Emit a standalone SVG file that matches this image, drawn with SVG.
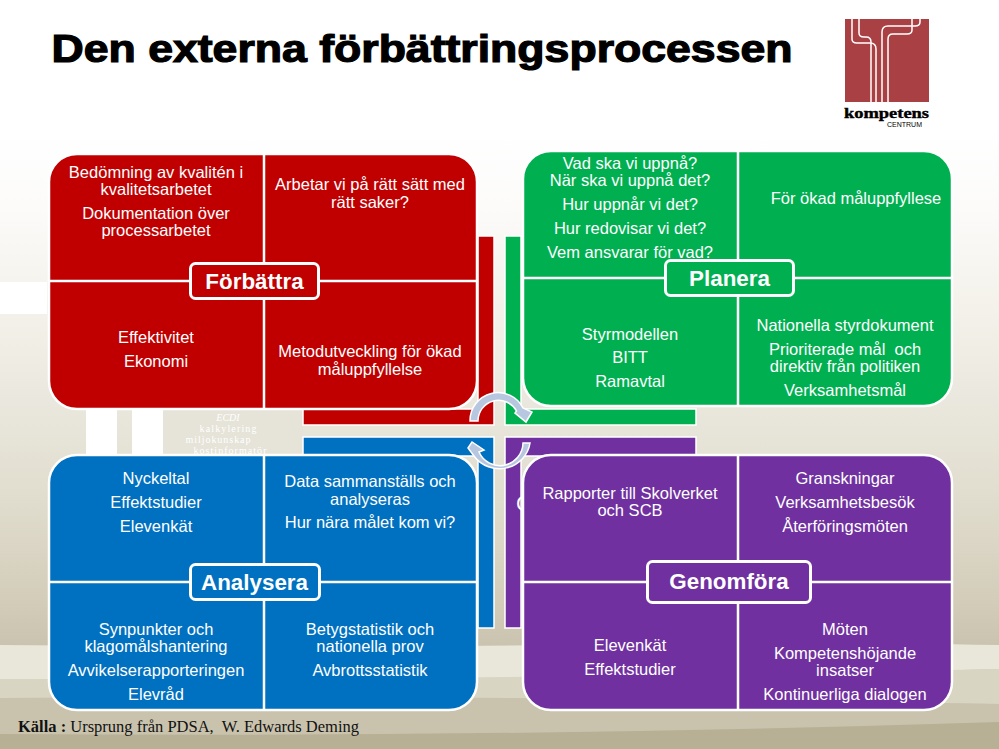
<svg xmlns="http://www.w3.org/2000/svg" width="999" height="749" viewBox="0 0 999 749">
<style>
text{font-family:"Liberation Sans",Arial,sans-serif;white-space:pre}
.t{fill:#fff;font-size:16.5px;text-anchor:middle}
.q{stroke:#fff;stroke-width:2.5}
.l{stroke:#fff;stroke-width:2.5;fill:none}
.lab{stroke:#fff;stroke-width:3}
.lt{fill:#fff;font-size:22.4px;font-weight:bold;text-anchor:middle}
.back{stroke:#fff;stroke-width:1.5}
.wm{font-family:"Liberation Serif",serif;fill:#fff;font-size:10px;text-anchor:middle}
.arrow{fill:#b8c7e0;stroke:#fff;stroke-width:1.5}
.logoline{fill:none;stroke:#fff;stroke-width:1.5}
</style>
<defs>
<linearGradient id="bg" gradientUnits="userSpaceOnUse" x1="0" y1="130" x2="0" y2="650">
<stop offset="0" stop-color="#fff"/><stop offset="0.15" stop-color="#fcfbfa"/><stop offset="0.35" stop-color="#f3f1e9"/><stop offset="0.52" stop-color="#eae8de"/><stop offset="0.72" stop-color="#e0dccd"/><stop offset="0.9" stop-color="#d3cdba"/><stop offset="1" stop-color="#c8c2ae"/>
</linearGradient>
</defs>
<g id="background">
<rect width="999" height="749" fill="url(#bg)"/>
<rect x="0" y="282" width="47" height="32" fill="#fff"/>
<path d="M0 645Q300 648 560 645T999 645V669Q600 680 0 680Z" fill="#e9e7da"/>
<path d="M0 679Q500 680 999 669V704Q500 695 0 698Z" fill="#d8d5c3"/>
<path d="M0 698Q500 695 999 704V749H0Z" fill="#c9c3ae"/>
<path d="M0 734Q500 738 999 722V749H0Z" fill="#b7b094"/>
<rect x="86" y="410" width="31" height="46" fill="#fff"/>
<rect x="132" y="410" width="31" height="46" fill="#fff"/>
<rect x="163" y="410" width="140" height="46" fill="#e6e3d8"/>
</g>
<text id="title" x="51.500" y="61.500" font-size="38.500" font-weight="bold" stroke="#000" stroke-width="1.2" textLength="741" lengthAdjust="spacingAndGlyphs">Den externa förbättringsprocessen</text>
<g id="logo">
<rect x="845" y="19" width="84" height="83" fill="#a94044"/>
<path class="logoline" d="M852 19V39Q852 43 857 43H870Q876 43 876 49V102"/>
<path class="logoline" d="M859 19V33Q859 37 864 37H866Q871 37 871 42V102"/>
<path class="logoline" d="M920 19V22Q920 26 915 26H888Q882 26 882 32V102"/>
<path class="logoline" d="M912 19V30Q912 34 907 34H893Q888 34 888 39V102"/>
<text x="886.500" y="118" font-size="15.500" font-weight="bold" stroke="#000" stroke-width="0.4" text-anchor="middle" textLength="85" lengthAdjust="spacingAndGlyphs" style="font-family:'Liberation Serif',serif">kompetens</text>
<text x="904.500" y="127" font-size="7" text-anchor="middle" textLength="35" lengthAdjust="spacingAndGlyphs">CENTRUM</text>
</g>
<g id="connectors">
<path class="back" d="M478 236H494V425H303V409H478Z" fill="#c00000"/>
<path class="back" d="M505 236H521V409H696V425H505Z" fill="#00b050"/>
<path class="back" d="M303 437H494V628H478V456H303Z" fill="#0070c0"/>
<path class="back" d="M505 437H696V456H521V628H505Z" fill="#7030a0"/>
<text class="wm" x="228" y="421" font-style="italic">ECDI</text>
<text class="wm" x="228" y="432" textLength="57">kalkylering</text>
<text class="wm" x="218" y="443" textLength="65">miljokunskap</text>
<text class="wm" x="230" y="454" textLength="73">kostinformatör</text>
<text x="516" y="511" font-size="22" fill="#fff">C</text>
<path class="arrow" d="M470 421A28 28 0 0 1 523 408L532 412L526 422L515 413L516.500 411A20.500 20.500 0 0 0 478 421Z"/>
<path class="arrow" d="M530 443A31 30 0 0 1 474 456L468 448L472 442L484 450L479 452A23 23 0 0 0 523 443Z"/>
</g>
<g id="forbattra">
<rect class="q" x="49" y="154" width="428" height="255" rx="28" fill="#c00000"/>
<path class="l" d="M264 154V409M49 281H477"/>
<rect class="lab" x="190.500" y="263.500" width="128" height="35" rx="5" fill="#c00000"/>
<text class="lt" x="254.500" y="289">Förbättra</text>
<text class="t" x="156" y="178">Bedömning av kvalitén i</text><text class="t" x="156" y="195">kvalitetsarbetet</text>
<text class="t" x="156" y="219">Dokumentation över</text><text class="t" x="156" y="236">processarbetet</text>
<text class="t" x="370" y="190">Arbetar vi på rätt sätt med</text><text class="t" x="370" y="208">rätt saker?</text>
<text class="t" x="156" y="343">Effektivitet</text><text class="t" x="156" y="367">Ekonomi</text>
<text class="t" x="370" y="357">Metodutveckling för ökad</text><text class="t" x="370" y="375">måluppfyllelse</text>
</g>
<g id="planera">
<rect class="q" x="523" y="151" width="429" height="255" rx="28" fill="#00b050"/>
<path class="l" d="M738 151V406M523 278H952"/>
<rect class="lab" x="665.500" y="260.500" width="128" height="35" rx="5" fill="#00b050"/>
<text class="lt" x="729.500" y="286">Planera</text>
<text class="t" x="630" y="169">Vad ska vi uppnå?</text><text class="t" x="630" y="186">När ska vi uppnå det?</text>
<text class="t" x="630" y="210">Hur uppnår vi det?</text><text class="t" x="630" y="234">Hur redovisar vi det?</text><text class="t" x="630" y="258">Vem ansvarar för vad?</text>
<text class="t" x="856" y="204">För ökad måluppfyllese</text>
<text class="t" x="630" y="340">Styrmodellen</text><text class="t" x="630" y="363">BITT</text><text class="t" x="630" y="387">Ramavtal</text>
<text class="t" x="845" y="331">Nationella styrdokument</text>
<text class="t" x="845" y="355">Prioriterade mål  och</text><text class="t" x="845" y="372">direktiv från politiken</text>
<text class="t" x="845" y="396">Verksamhetsmål</text>
</g>
<g id="analysera">
<rect class="q" x="49" y="455" width="428" height="255" rx="28" fill="#0070c0"/>
<path class="l" d="M264 455V710M49 582H477"/>
<rect class="lab" x="190.500" y="564.500" width="129" height="35" rx="5" fill="#0070c0"/>
<text class="lt" x="254.500" y="590">Analysera</text>
<text class="t" x="156" y="484">Nyckeltal</text><text class="t" x="156" y="508">Effektstudier</text><text class="t" x="156" y="532">Elevenkät</text>
<text class="t" x="370" y="487">Data sammanställs och</text><text class="t" x="370" y="505">analyseras</text><text class="t" x="370" y="528">Hur nära målet kom vi?</text>
<text class="t" x="156" y="635">Synpunkter och</text><text class="t" x="156" y="652">klagomålshantering</text>
<text class="t" x="156" y="676">Avvikelserapporteringen</text><text class="t" x="156" y="700">Elevråd</text>
<text class="t" x="370" y="635">Betygstatistik och</text><text class="t" x="370" y="652">nationella prov</text><text class="t" x="370" y="676">Avbrottsstatistik</text>
</g>
<g id="genomfora">
<rect class="q" x="523" y="455" width="429" height="255" rx="28" fill="#7030a0"/>
<path class="l" d="M738 455V710M523 582H952"/>
<rect class="lab" x="647.500" y="561.500" width="163" height="41" rx="5" fill="#7030a0"/>
<text class="lt" x="729" y="589">Genomföra</text>
<text class="t" x="630" y="499">Rapporter till Skolverket</text><text class="t" x="630" y="516">och SCB</text>
<text class="t" x="845" y="484">Granskningar</text><text class="t" x="845" y="508">Verksamhetsbesök</text><text class="t" x="845" y="532">Återföringsmöten</text>
<text class="t" x="630" y="651">Elevenkät</text><text class="t" x="630" y="675">Effektstudier</text>
<text class="t" x="845" y="635">Möten</text><text class="t" x="845" y="659">Kompetenshöjande</text><text class="t" x="845" y="676">insatser</text><text class="t" x="845" y="700">Kontinuerliga dialogen</text>
</g>
<text id="source" x="18" y="732" font-size="16.5" fill="#111" style="font-family:'Liberation Serif',serif"><tspan font-weight="bold">Källa : </tspan>Ursprung från PDSA,  W. Edwards Deming</text>
</svg>
